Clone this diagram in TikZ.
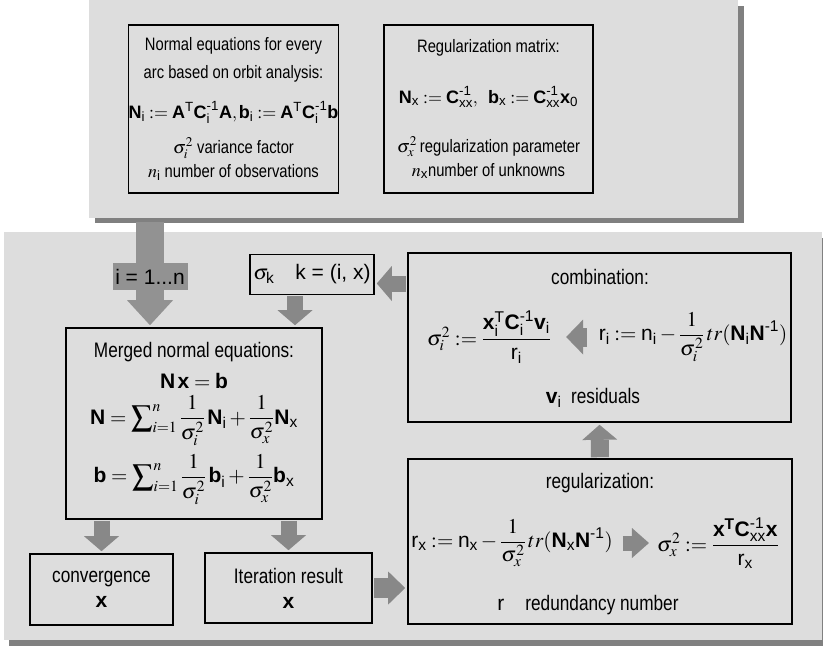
\documentclass[tikz,border=0pt]{standalone}
\usepackage{amsmath}
\usepackage{mathptmx}
\usepackage[no-math]{fontspec}
\setmainfont{Liberation Sans}[FakeStretch=0.82]
\newfontfamily\wide{Liberation Sans}
\usetikzlibrary{arrows.meta}

\definecolor{panelgray}{RGB}{221,221,221}
\definecolor{shadowgray}{RGB}{128,128,128}
\definecolor{arrowgray}{RGB}{136,136,136}
\definecolor{feedgray}{RGB}{146,146,146}

\newcommand{\vbf}[1]{\text{\wide\bfseries #1}}
\newcommand{\vsub}[1]{\text{\wide #1}}

\begin{document}
\begin{tikzpicture}[x=1pt,y=-1pt,
box/.style={draw, line width=1.6pt, inner sep=0pt, align=center},
fat/.style={draw=arrowgray, line width=16pt, shorten <=1pt, shorten >=2pt,
-{Triangle[length=15pt,width=35pt,line width=0pt]}},
small/.style={font=\fontsize{18}{22}\selectfont},
big/.style={font=\fontsize{21}{25}\selectfont}]

\useasboundingbox (0,0) rectangle (823,646);
% panels
\fill[shadowgray] (95,6) rectangle (744,223);
\fill[panelgray] (89,0) rectangle (738,218);
\fill[shadowgray] (9,238) rectangle (823,646);
\fill[panelgray] (4,232) rectangle (822,640);

% input
\node[box, small, minimum width=209pt, minimum height=168pt] (arcs) at (233.5,109)
{Normal equations for every\\[6pt] arc based on orbit analysis:\\[18pt]
$\vbf{N}_{\vsub{i}} := \vbf{A}^{\vsub{T}}\vbf{C}_{\vsub{i}}^{\vsub{-1}}\vbf{A}, \vbf{b}_{\vsub{i}} := \vbf{A}^{\vsub{T}}\vbf{C}_{\vsub{i}}^{\vsub{-1}}\vbf{b}$\\[13pt]
$\sigma_i^2$ variance factor\\[2pt]
$n_{\vsub{i}}$ number of observations};
\node[box, small, minimum width=209pt, minimum height=168pt] (regm) at (488.5,109)
{Regularization matrix:\\[29pt]
$\vbf{N}_{\vsub{x}} := \vbf{C}_{\vsub{xx}}^{\vsub{-1}},\ \ \vbf{b}_{\vsub{x}} := \vbf{C}_{\vsub{xx}}^{\vsub{-1}}\vbf{x}_{\vsub{0}}$\\[27pt]
$\sigma_x^2$\,regularization parameter\\[2pt]
$n_{\vsub{x}}$number of unknowns};

% iteration
\node[box, big, minimum width=124pt, minimum height=40pt] (sigk) at (312,274.5)
{$\sigma_{\vsub{k}}$\quad{\wide k = (i, x)}};
\node[box, big, minimum width=256pt, minimum height=191pt] (merged) at (194,423.5)
{Merged normal equations:\\[6pt]
$\vbf{N}\,\vbf{x} = \vbf{b}$\\[6pt]
$\vbf{N} = \displaystyle\sum\nolimits_{i=1}^{n}\dfrac{1}{\sigma_i^2}\,\vbf{N}_{\vsub{i}} + \dfrac{1}{\sigma_x^2}\vbf{N}_{\vsub{x}}$\\[8pt]
$\vbf{b} = \displaystyle\sum\nolimits_{i=1}^{n}\dfrac{1}{\sigma_i^2}\,\vbf{b}_{\vsub{i}} + \dfrac{1}{\sigma_x^2}\vbf{b}_{\vsub{x}}$};
\node[box, big, minimum width=143pt, minimum height=71pt] (conv) at (101.5,589.5)
{convergence\\ $\vbf{x}$};
\node[box, big, minimum width=167pt, minimum height=70pt] (iter) at (288.5,588)
{Iteration result\\ $\vbf{x}$};

% combination
\node[box, minimum width=383pt, minimum height=169pt] (comb) at (599.5,337.5) {};
\node[big] (combt) at (600,277) {combination:};
\node[big, inner sep=0pt] (sigi) at (489,337)
{$\sigma_i^2 \mathrel{:=} \dfrac{\vbf{x}_{\vsub{i}}^{\vsub{T}}\vbf{C}_{\vsub{i}}^{\vsub{-1}}\vbf{v}_{\vsub{i}}}{\vsub{r}_{\vsub{i}}}$};
\node[big, inner sep=0pt] (ri) at (693,337)
{$\vsub{r}_{\vsub{i}} := \vsub{n}_{\vsub{i}} - \dfrac{1}{\sigma_i^2}\,tr(\vbf{N}_{\vsub{i}}\vbf{N}^{\vsub{-1}})$};
\node[big] (resid) at (593,398) {$\vbf{v}_{\vsub{i}}$\ \ residuals};
\draw[fat, line width=19pt, shorten <=12pt, shorten >=15pt,
-{Triangle[length=17pt,width=35pt,line width=0pt]}] (ri.west) -- (sigi.east);

% regularization
\node[box, minimum width=384pt, minimum height=165pt] (reg) at (600,541.5) {};
\node[big] (regt) at (600,483) {regularization:};
\node[big, inner sep=0pt] (rx) at (512,543)
{$\vsub{r}_{\vsub{x}} := \vsub{n}_{\vsub{x}} - \dfrac{1}{\sigma_x^2}\,tr(\vbf{N}_{\vsub{x}}\vbf{N}^{\vsub{-1}})$};
\node[big, inner sep=0pt] (sigx) at (718,543)
{$\sigma_x^2 := \dfrac{\vbf{x}^{\vbf{T}}\vbf{C}_{\vsub{xx}}^{\vsub{-1}}\vbf{x}}{\vsub{r}_{\vsub{x}}}$};
\node[big] (redund) at (588,605) {{\wide r}\quad redundancy number};
\draw[fat, line width=15pt, shorten <=10pt, shorten >=8pt,
-{Triangle[length=17pt,width=30pt,line width=0pt]}] (rx.east) -- (sigx.west);

% connectors
\coordinate (feed) at (150,222);
\draw[fat, draw=feedgray, line width=28pt, shorten <=0pt,
-{Triangle[length=25pt,width=46pt,line width=0pt]}] (feed) --
node[pos=0.52, big, fill=feedgray, minimum width=75pt, minimum height=27pt, inner sep=0pt] (count) {\wide i = 1...n}
(feed |- merged.north);
\draw[fat] ([xshift=-17pt]sigk.south) -- ([xshift=-17pt]sigk.south |- merged.north);
\draw[fat] ([yshift=-9pt]sigk.east -| comb.west) -- ([yshift=-9pt]sigk.east);
\draw[fat] (merged.south -| conv.north) -- (conv.north);
\draw[fat] (merged.south -| iter.north) -- (iter.north);
\draw[fat, line width=20pt, -{Triangle[length=17pt,width=33pt,line width=0pt]}] (iter.east) -- (iter.east -| reg.west);
\draw[fat, line width=18pt] (reg.north) -- (comb.south);
\end{tikzpicture}
\end{document}
